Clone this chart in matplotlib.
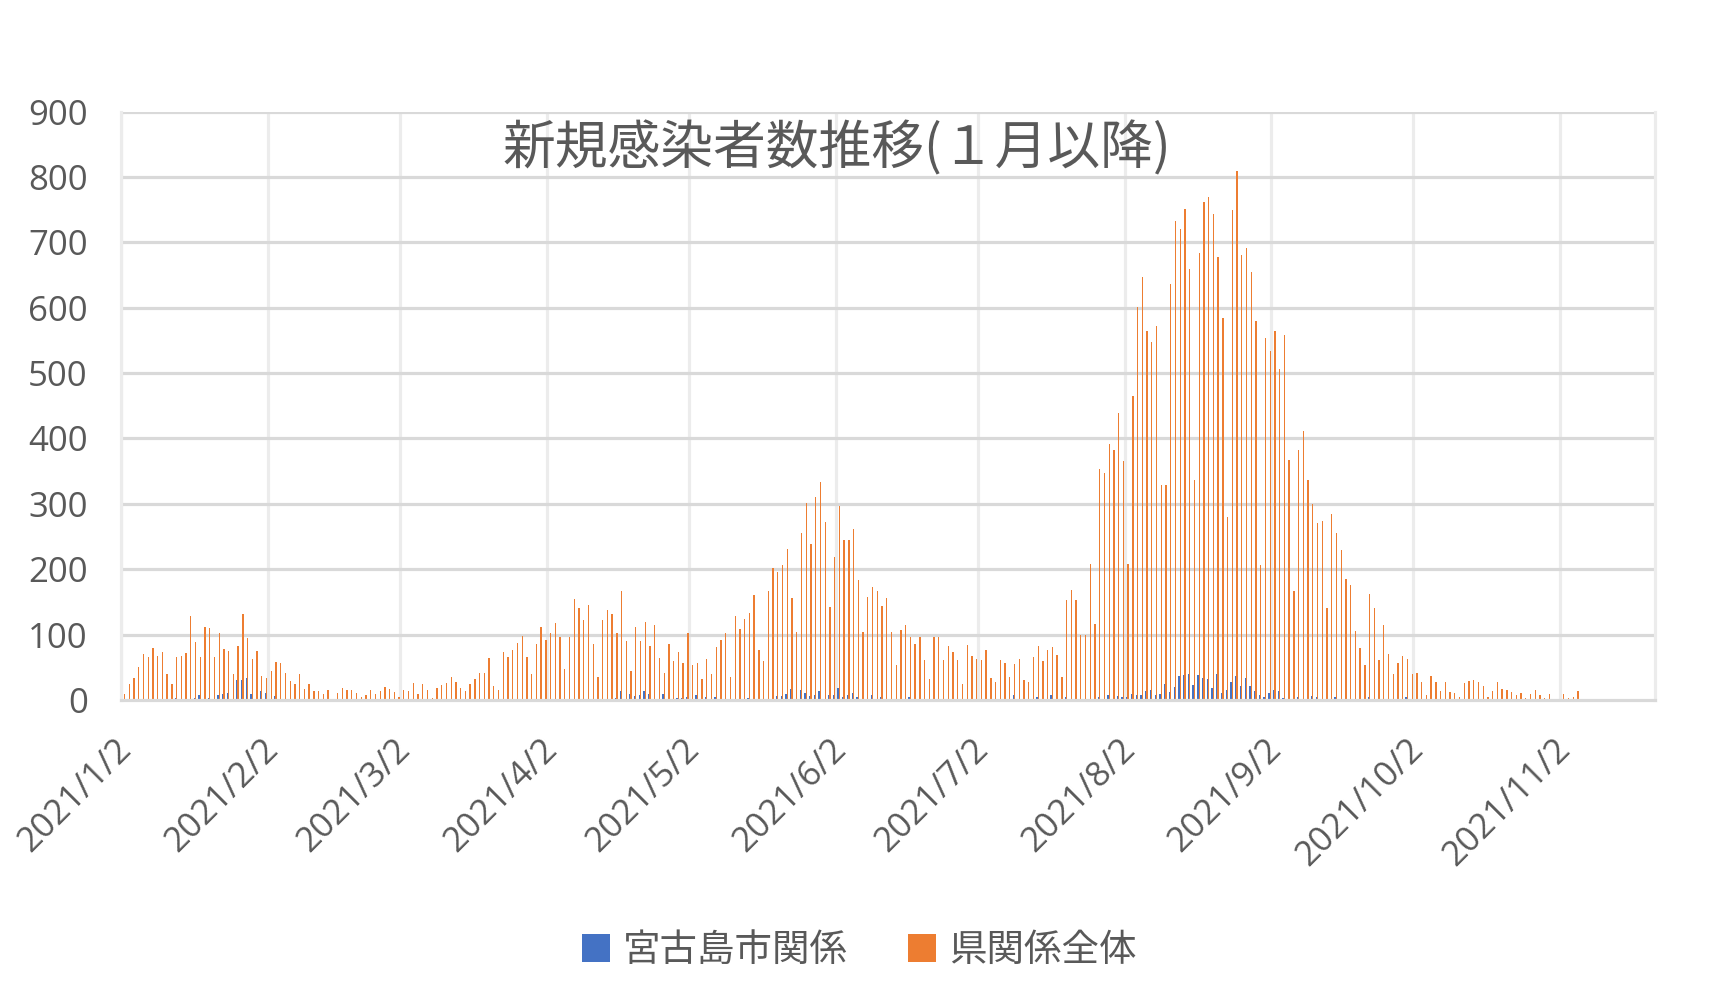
import matplotlib
matplotlib.use("Agg")
import matplotlib.pyplot as plt
from matplotlib.patches import Patch
from matplotlib.transforms import ScaledTranslation
import numpy as np
import pandas as pd

plt.rcParams['font.family'] = ['Noto Sans CJK JP', 'DejaVu Sans']

start_date = "2021-01-02"

# 県関係全体 (daily new cases, from 2021/1/2)
prefecture_total = [
    9, 24, 34, 51, 71, 65, 80, 68, 73, 40,
    25, 65, 68, 72, 129, 88, 66, 112, 110, 66,
    102, 78, 75, 40, 83, 131, 95, 62, 75, 37,
    34, 45, 58, 56, 41, 29, 25, 39, 17, 25,
    14, 14, 9, 16, 2, 11, 18, 16, 16, 10,
    5, 7, 15, 9, 13, 20, 17, 12, 4, 15,
    14, 26, 9, 24, 15, 3, 19, 23, 26, 35,
    27, 19, 13, 24, 32, 41, 41, 64, 21, 15,
    74, 66, 76, 87, 98, 66, 40, 86, 111, 92,
    102, 117, 96, 48, 97, 155, 141, 123, 146, 85,
    35, 123, 137, 132, 102, 167, 90, 44, 112, 90,
    119, 82, 114, 64, 41, 85, 60, 73, 57, 102,
    54, 57, 32, 63, 39, 81, 92, 103, 35, 129,
    108, 124, 133, 160, 77, 59, 167, 202, 196, 206,
    231, 156, 104, 256, 301, 239, 311, 334, 272, 142,
    218, 296, 244, 245, 261, 183, 104, 157, 173, 166,
    144, 156, 104, 54, 107, 115, 97, 85, 96, 61,
    32, 97, 96, 61, 82, 73, 61, 24, 84, 67,
    63, 61, 76, 34, 28, 61, 57, 35, 55, 63,
    30, 28, 65, 83, 60, 76, 81, 69, 35, 153,
    168, 153, 99, 99, 208, 116, 353, 347, 392, 382,
    439, 366, 208, 465, 601, 647, 564, 547, 572, 329,
    329, 637, 732, 720, 751, 660, 337, 683, 761, 769,
    743, 678, 585, 280, 749, 809, 680, 692, 655, 580,
    206, 554, 534, 565, 506, 558, 367, 166, 383, 412,
    336, 300, 270, 273, 140, 284, 255, 229, 185, 176,
    106, 79, 54, 162, 141, 61, 114, 70, 39, 57,
    67, 63, 40, 42, 27, 7, 36, 28, 13, 27,
    12, 11, 4, 26, 29, 30, 28, 22, 4, 13,
    27, 17, 15, 12, 7, 10, 3, 9, 15, 7,
    3, 9, 0, 0, 9, 3, 5, 13, 0, 0,
    0, 0, 1, 0, 0, 0, 0, 0, 0, 0,
    0, 0, 0, 0,
]

# 宮古島市関係
miyako = [
    0, 0, 0, 0, 0, 0, 0, 0, 0, 0,
    0, 3, 0, 0, 0, 3, 8, 0, 3, 0,
    7, 9, 11, 0, 31, 30, 33, 9, 0, 13,
    10, 2, 6, 0, 0, 0, 0, 0, 0, 0,
    0, 0, 0, 0, 0, 0, 0, 0, 0, 0,
    0, 0, 0, 0, 0, 0, 0, 0, 0, 0,
    0, 0, 0, 0, 0, 0, 0, 0, 0, 0,
    0, 0, 0, 0, 0, 0, 0, 0, 0, 0,
    0, 0, 0, 0, 0, 0, 0, 0, 0, 0,
    0, 0, 0, 0, 0, 0, 0, 0, 0, 0,
    0, 2, 0, 0, 3, 13, 0, 9, 6, 8,
    14, 9, 0, 0, 9, 0, 0, 3, 3, 4,
    0, 8, 0, 5, 0, 4, 0, 0, 0, 0,
    0, 0, 3, 0, 0, 0, 0, 0, 6, 6,
    9, 17, 0, 15, 10, 6, 7, 13, 0, 8,
    8, 19, 5, 8, 11, 5, 0, 0, 8, 0,
    5, 0, 0, 0, 0, 0, 4, 0, 0, 0,
    0, 0, 0, 0, 0, 0, 0, 0, 0, 0,
    0, 0, 0, 0, 0, 0, 0, 0, 8, 0,
    0, 0, 0, 4, 0, 0, 7, 0, 0, 5,
    0, 0, 0, 0, 0, 0, 4, 0, 8, 0,
    6, 5, 5, 9, 8, 8, 14, 16, 7, 9,
    24, 12, 20, 37, 38, 40, 23, 38, 33, 32,
    19, 39, 11, 16, 27, 36, 22, 33, 22, 13,
    8, 5, 10, 15, 14, 3, 0, 0, 5, 0,
    0, 6, 5, 0, 0, 0, 5, 0, 0, 0,
    0, 0, 0, 4, 0, 0, 0, 0, 0, 0,
    0, 4, 0, 0, 0, 0, 0, 0, 0, 0,
    0, 0, 0, 0, 0, 0, 0, 0, 0, 0,
    0, 0, 0, 0, 0, 0, 0, 0, 0, 0,
    0, 0, 0, 0, 0, 0, 0, 0, 0, 0,
    0, 0, 0, 0, 0, 0, 0, 0, 0, 0,
    0, 0, 0, 0,
]

tick_labels = ["2021/1/2", "2021/2/2", "2021/3/2", "2021/4/2", "2021/5/2",
               "2021/6/2", "2021/7/2", "2021/8/2", "2021/9/2", "2021/10/2",
               "2021/11/2"]
y_ticks = [0, 100, 200, 300, 400, 500, 600, 700, 800, 900]

title = "新規感染者数推移(１月以降)"
series_names = ["宮古島市関係", "県関係全体"]

BLUE = "#4472C4"
ORANGE = "#ED7D31"
TXT = "#595959"
TICK_FONT = ["Open Sans", "DejaVu Sans"]

n = len(prefecture_total)
t0 = pd.Timestamp(start_date)
day = np.arange(n)
tick_pos = [(pd.Timestamp(s.replace("/", "-")) - t0).days for s in tick_labels]

fig = plt.figure(figsize=(17.32, 9.86), dpi=100)
ax = fig.add_axes([0.0699, 0.2901, 0.8856, 0.5967])

w = 0.28
ax.bar(day + 0.45, miyako, width=w, color=BLUE, linewidth=0, zorder=3)
ax.bar(day + 0.73, prefecture_total, width=w, color=ORANGE, linewidth=0, zorder=3)

ax.set_xlim(0, n)
ax.set_ylim(0, 900)
ax.set_yticks(y_ticks)
ax.set_yticklabels([str(v) for v in y_ticks], fontsize=25, color=TXT, family=TICK_FONT)
ax.set_xticks(tick_pos)
ax.set_xticklabels(tick_labels, fontsize=25, color=TXT, rotation=45, family=TICK_FONT,
                   ha="right", va="top", rotation_mode="anchor")
ax.tick_params(axis="both", length=0)
ax.tick_params(axis="y", pad=24)
ax.tick_params(axis="x", pad=23)
shift = ScaledTranslation(-5 / 72, 0, fig.dpi_scale_trans)
for lab in ax.get_xticklabels():
    lab.set_transform(lab.get_transform() + shift)

for v in y_ticks[1:]:
    ax.axhline(v, color="#d9d9d9", lw=2.3, zorder=1)
for p in tick_pos:
    ax.axvline(p, color="#ececec", lw=2.3, zorder=0)

ax.spines["top"].set_visible(False)
ax.spines["left"].set_color("#ececec")
ax.spines["left"].set_linewidth(2.3)
ax.spines["right"].set_color("#ececec")
ax.spines["right"].set_linewidth(2.3)
ax.spines["bottom"].set_color("#d9d9d9")
ax.spines["bottom"].set_linewidth(2.3)
ax.spines["bottom"].set_zorder(4)

fig.text(0.483, 0.849, title, fontsize=38, color=TXT, ha="center", va="center")

handles = [Patch(facecolor=BLUE, edgecolor="none"), Patch(facecolor=ORANGE, edgecolor="none")]
fig.legend(handles, series_names, loc="center", bbox_to_anchor=(0.496, 0.036), ncol=2,
           frameon=False, fontsize=27, handlelength=0.75, handleheight=0.75,
           handletextpad=0.35, columnspacing=1.6, labelcolor=TXT)

fig.savefig("out.png", dpi=100, facecolor="white")
